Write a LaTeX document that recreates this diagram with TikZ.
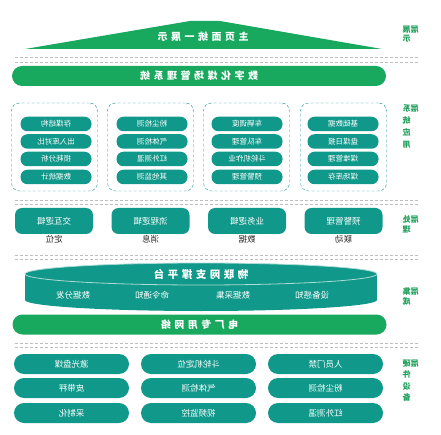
\documentclass[tikz,border=0pt]{standalone}
\usepackage{fontspec}
\setmainfont{Noto Sans CJK SC}
\usepackage{tikz}
\usetikzlibrary{positioning}
\definecolor{barGreen}{RGB}{24,168,94}
\definecolor{cardTeal}{RGB}{16,152,138}
\definecolor{lblGreen}{RGB}{30,160,90}
\definecolor{sepGray}{RGB}{190,190,190}
\newcommand{\ls}{\hspace{3.5pt}}

\begin{document}
\begin{tikzpicture}[x=1pt, y=-1pt,
    mir/.style={xscale=-1},
    bar/.style={fill=barGreen, rounded corners=10pt, minimum width=374pt,
                minimum height=20pt, inner sep=0pt, text=white,
                font=\fontsize{10}{12}\selectfont\bfseries, mir},
    pill/.style={fill=cardTeal, rounded corners=7pt, minimum width=71pt,
                 minimum height=14.5pt, inner sep=0pt, text=white,
                 font=\fontsize{7.5}{9}\selectfont, mir},
    group/.style={draw=cardTeal, dashed, dash pattern=on 3pt off 2pt,
                  rounded corners=8pt, minimum width=86pt,
                  minimum height=88pt, inner sep=0pt},
    logic/.style={fill=cardTeal, rounded corners=7pt, minimum width=78pt,
                  minimum height=26pt, inner sep=0pt, text=white,
                  font=\fontsize{8.5}{10}\selectfont, mir},
    tag/.style={inner sep=0pt, text=black!85,
                font=\fontsize{8.5}{10}\selectfont, mir},
    hw/.style={fill=cardTeal, rounded corners=10pt, minimum width=115pt,
               minimum height=20pt, inner sep=0pt, text=white,
               font=\fontsize{8.5}{10}\selectfont, mir},
    layer/.style={inner sep=0pt, text=lblGreen,
                  font=\fontsize{8}{#1}\selectfont\bfseries, mir},
    sep/.style={draw=sepGray, dash pattern=on 3pt off 2pt, line width=0.6pt}
]
\useasboundingbox (0,0) rectangle (441,435);

%% ── Display layer ─────────────────────────────────────────────────────
\fill[barGreen] (190,21) -- (220,21) -- (382,49) -- (25,49) -- cycle;
\node[mir, text=white, font=\fontsize{10}{12}\selectfont\bfseries, inner sep=0pt]
      (show) at (203,37) {主\ls 页\ls 面\ls 统\ls 一\ls 展\ls 示};
\node[layer=9.5] (lbShow) at (410.5,35)
      {\begin{tabular}{@{}c@{}c@{}}层&展\\&示\end{tabular}};

\draw[sep] (15,57.5) -- (420,57.5);
\draw[sep] (15,62) -- (420,62);

%% ── Application layer ─────────────────────────────────────────────────
\node[bar] (sys) at (199,76) {数\ls 字\ls 化\ls 煤\ls 场\ls 管\ls 理\ls 系\ls 统};

\node[group] (g1) at (54.5,147) {};
\node[group] (g2) at (150.5,147) {};
\node[group] (g3) at (246.5,147) {};
\node[group] (g4) at (343.5,147) {};

\node[pill] (a11) at (56,124) {存煤结构};
\node[pill] (a12) at (56,141.5) {出入库对比};
\node[pill] (a13) at (56,159) {损耗分析};
\node[pill] (a14) at (56,177) {数据统计};

\node[pill] (a21) at (152,124) {粉尘检测};
\node[pill] (a22) at (152,141.5) {气体检测};
\node[pill] (a23) at (152,159) {红外测温};
\node[pill] (a24) at (152,177) {其他监测};

\node[pill] (a31) at (247,124) {车辆调度};
\node[pill] (a32) at (247,141.5) {车队管理};
\node[pill] (a33) at (247,159) {斗轮机作业};
\node[pill] (a34) at (247,177) {预警管理};

\node[pill] (a41) at (343,124) {基础数据};
\node[pill] (a42) at (343,141.5) {盘煤日报};
\node[pill] (a43) at (343,159) {煤堆管理};
\node[pill] (a44) at (343,177) {煤场库存};

\node[layer=12.3] (lbApp) at (410.5,127)
      {\begin{tabular}{@{}c@{}c@{}}层&系\\&统\\&应\\&用\end{tabular}};

\draw[sep] (15,200) -- (420,200);
\draw[sep] (15,204) -- (420,204);

%% ── Processing layer ──────────────────────────────────────────────────
\node[logic] (p1) at (54,221) {交互逻辑};
\node[logic] (p2) at (150.5,221) {流程逻辑};
\node[logic] (p3) at (247,221) {业务逻辑};
\node[logic] (p4) at (343.5,221) {预警管理};

\node[tag] (t1) at (54,239.5) {定位};
\node[tag] (t2) at (150.5,239.5) {消息};
\node[tag] (t3) at (247,239.5) {数据};
\node[tag] (t4) at (343.5,239.5) {联动};

\node[layer=10] (lbProc) at (410.5,226)
      {\begin{tabular}{@{}c@{}c@{}}层&处\\&理\end{tabular}};

\draw[sep] (15,255) -- (420,255);
\draw[sep] (15,259) -- (420,259);

%% ── Integration layer (IoT platform) ──────────────────────────────────
\fill[cardTeal] (25,274) rectangle (377,300);
\fill[cardTeal] (201,300) ellipse[x radius=176, y radius=11];
\draw[cardTeal!35!white, fill=cardTeal, line width=0.8pt]
      (201,274) ellipse[x radius=176, y radius=11];
\node[mir, text=white, font=\fontsize{10.5}{12}\selectfont\bfseries, inner sep=0pt]
      (iot) at (201,274) {物\ls 联\ls 网\ls 支\ls 撑\ls 平\ls 台};

\node[tag, text=white] (i1) at (73,295) {数据分发};
\node[tag, text=white] (i2) at (152,295) {命令通知};
\node[tag, text=white] (i3) at (233,295) {数据采集};
\node[tag, text=white] (i4) at (312,295) {设备感知};

\node[layer=10] (lbInt) at (410.5,297)
      {\begin{tabular}{@{}c@{}c@{}}层&集\\&成\end{tabular}};

\node[bar] (net) at (199.5,324.5) {电\ls 厂\ls 专\ls 用\ls 网\ls 络};

\draw[sep] (15,343) -- (420,343);
\draw[sep] (15,347) -- (420,347);

%% ── Hardware layer ────────────────────────────────────────────────────
\node[hw] (h11) at (71.5,364) {激光盘煤};
\node[hw] (h12) at (71.5,388) {皮带秤};
\node[hw] (h13) at (71.5,413) {采制化};

\node[hw] (h21) at (198.5,364) {斗轮机定位};
\node[hw] (h22) at (198.5,388) {气体检测};
\node[hw] (h23) at (198.5,413) {视频监控};

\node[hw] (h31) at (325.5,364) {人员门禁};
\node[hw] (h32) at (325.5,388) {粉尘检测};
\node[hw] (h33) at (325.5,413) {红外测温};

\node[layer=11.5] (lbHw) at (410.5,381)
      {\begin{tabular}{@{}c@{}c@{}}层&硬\\&件\\&设\\&备\end{tabular}};
\end{tikzpicture}
\end{document}
